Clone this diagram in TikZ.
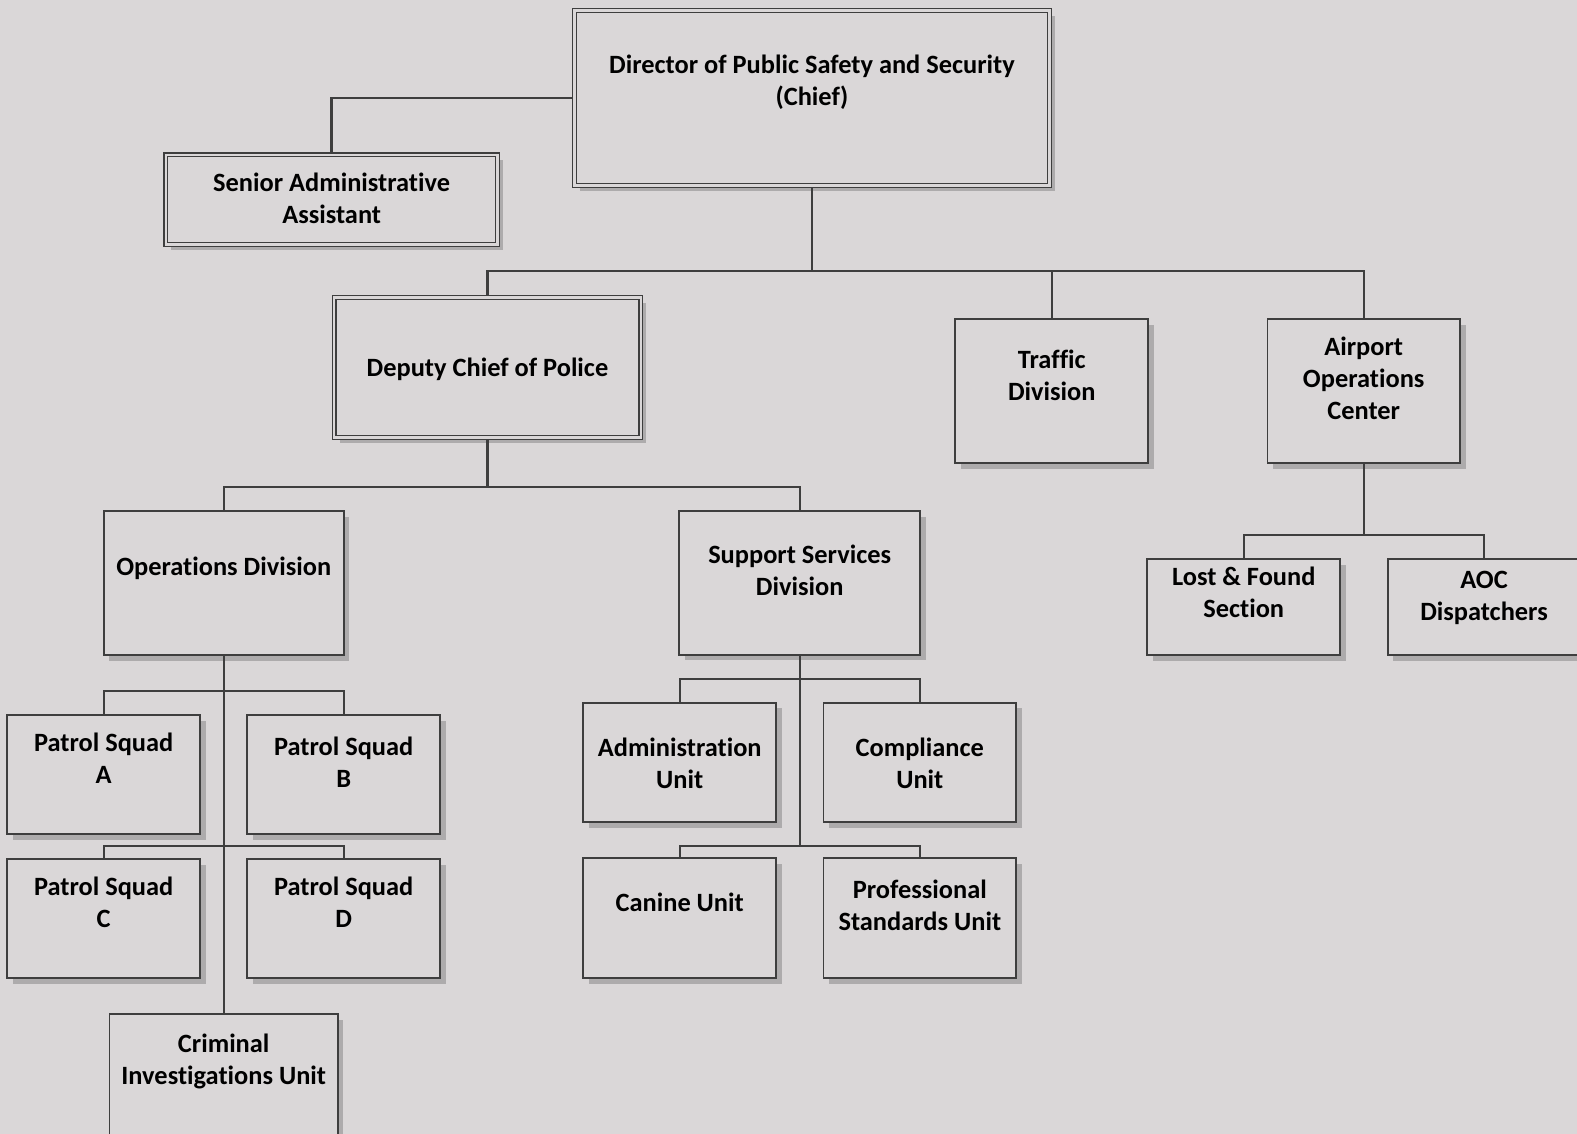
\documentclass[tikz,border=0pt]{standalone}
\usepackage{fontspec}
\setmainfont{Carlito}[Ligatures=NoCommon]
\usetikzlibrary{shadows}
\definecolor{bgc}{HTML}{DAD7D8}
\definecolor{linec}{HTML}{3E3E3E}
\definecolor{shc}{HTML}{ADABAC}
% width, height, top offset, text
\newcommand{\boxtext}[4]{\parbox[c][#2pt][t]{#1pt}{\centering\vspace*{#3pt}\rule{0pt}{21pt}#4}}
\tikzset{
  box/.style={draw=linec, line width=1.8pt, fill=bgc, inner sep=0pt, outer sep=0.9pt,
    font=\fontsize{26.4}{32}\selectfont\bfseries,
    drop shadow={shadow xshift=5.5pt, shadow yshift=-5.5pt, fill=shc, opacity=1}},
  dbox/.style={box, line width=1.4pt, double=bgc, double distance=2.2pt, outer sep=2.5pt},
  conn/.style={draw=linec, line width=2.4pt}
}
\begin{document}
\begin{tikzpicture}[x=1pt, y=-1pt]
\useasboundingbox (0,0) rectangle (1577,1134);
\clip (0,0) rectangle (1577,1134);
\fill[bgc] (0,0) rectangle (1577,1134);

% top level
\node[dbox] (dir) at (812,98) {\boxtext{475}{175}{42.5}{Director of Public Safety and Security\\(Chief)}};
\node[dbox] (sen) at (331.65,199.65) {\boxtext{331.7}{89.7}{15.9}{Senior Administrative\\Assistant}};
\node[dbox] (dep) at (487.5,367.5) {\boxtext{306.6}{140}{58.2}{Deputy Chief of Police}};
\node[box] (tra) at (1051.8,391.3) {\boxtext{193}{144}{28}{Traffic\\Division}};
\node[box] (air) at (1363.7,391.3) {\boxtext{192.6}{144}{14.7}{Airport\\Operations\\Center}};

% divisions
\node[box] (ops) at (223.7,583) {\boxtext{240}{144}{43}{Operations Division}};
\node[box] (sup) at (799.7,583) {\boxtext{240.7}{143.7}{31}{Support Services\\Division}};

% operations units
\node[box] (pA) at (103.7,774.7) {\boxtext{192.7}{119.3}{15.7}{Patrol Squad\\A}};
\node[box] (pB) at (343.7,774.7) {\boxtext{192.7}{119.3}{19}{Patrol Squad\\B}};
\node[box] (pC) at (103.7,918.7) {\boxtext{192.7}{119.3}{15}{Patrol Squad\\C}};
\node[box] (pD) at (343.7,918.7) {\boxtext{192.7}{119.3}{15}{Patrol Squad\\D}};
\node[box] (cri) at (223.7,1086) {\boxtext{228.4}{144}{17.7}{Criminal\\Investigations Unit}};

% support units
\node[box] (adm) at (679.7,762.5) {\boxtext{192.7}{119.6}{32.3}{Administration\\Unit}};
\node[box] (com) at (919.8,762.5) {\boxtext{192.7}{119.6}{32.3}{Compliance\\Unit}};
\node[box] (can) at (679.7,918.3) {\boxtext{192.7}{120}{32.4}{Canine Unit}};
\node[box] (pro) at (919.8,918.3) {\boxtext{192.7}{120}{19}{Professional\\Standards Unit}};

% airport units
\node[box] (lost) at (1243.7,607) {\boxtext{192.7}{96}{5}{Lost \& Found\\Section}};
\node[box] (aoc) at (1484,607) {\boxtext{192.7}{96}{8.3}{AOC\\Dispatchers}};

% bus coordinates
\coordinate (b1) at (812,271);
\coordinate (b2) at (487.5,487);
\coordinate (b3) at (223.7,690.7);
\coordinate (b4) at (223.7,846);
\coordinate (b5) at (799.7,679);
\coordinate (b6) at (799.7,846);
\coordinate (b7) at (1363.7,535);

% connectors
\draw[conn] (dir.west) -| (sen.north);
\draw[conn] (dir.south) -- (b1);
\draw[conn] (dep.north) |- (b1) -| (air.north);
\draw[conn] (tra.north) -- (tra.north |- b1);

\draw[conn] (dep.south) -- (b2);
\draw[conn] (ops.north) |- (b2) -| (sup.north);

\draw[conn] (ops.south) -- (cri.north);
\draw[conn] (pA.north) |- (b3) -| (pB.north);
\draw[conn] (pC.north) |- (b4) -| (pD.north);

\draw[conn] (sup.south) -- (b6);
\draw[conn] (adm.north) |- (b5) -| (com.north);
\draw[conn] (can.north) |- (b6) -| (pro.north);

\draw[conn] (air.south) -- (b7);
\draw[conn] (lost.north) |- (b7) -| (aoc.north);
\end{tikzpicture}
\end{document}
